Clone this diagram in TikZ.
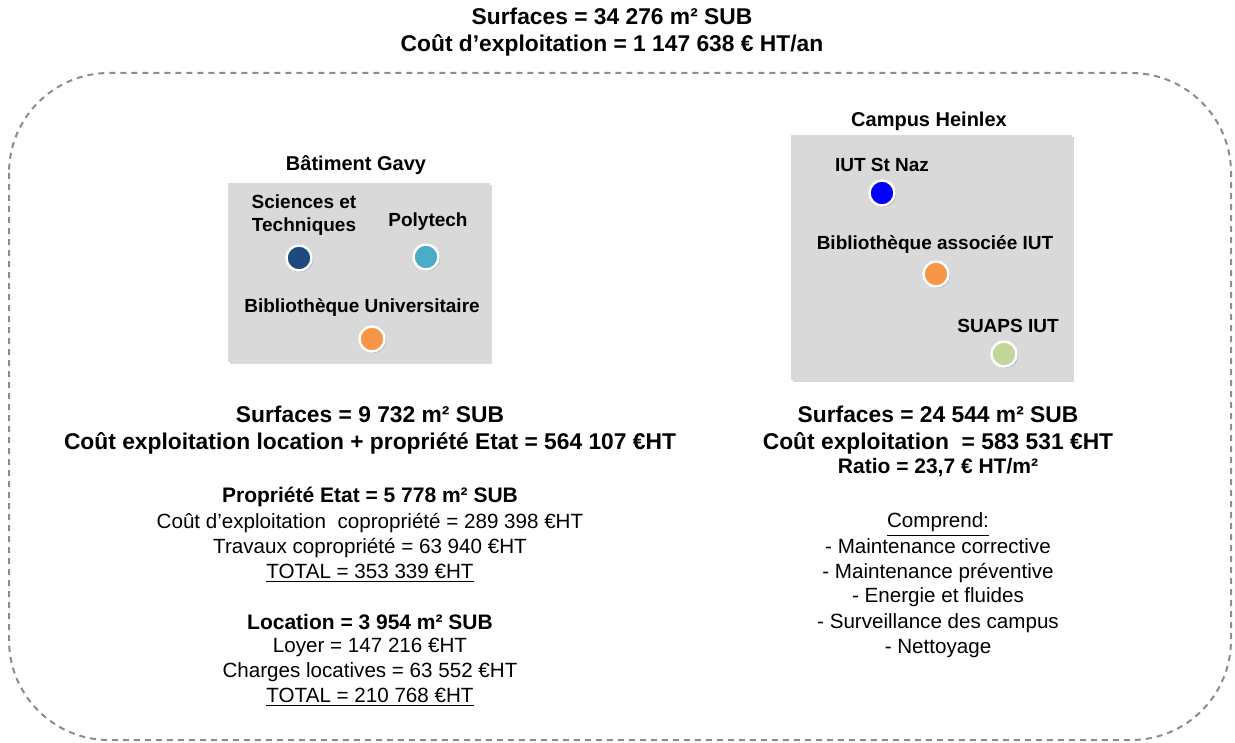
\documentclass[tikz,border=0pt]{standalone}
\usepackage{fontspec}
\setmainfont{Liberation Sans}
\usetikzlibrary{shadows}
\definecolor{boxgray}{HTML}{D9D9D9}
\definecolor{dashgray}{HTML}{8C8C8C}
\definecolor{navy}{HTML}{1F497D}
\definecolor{teal}{HTML}{4BACC6}
\definecolor{peach}{HTML}{F79646}
\definecolor{pureblue}{HTML}{0000FF}
\definecolor{sage}{HTML}{C3D69B}
\begin{document}
\begin{tikzpicture}[
				x=0.5pt, y=-0.5pt,
				dot/.style={
						circle,
						fill=#1,
						draw=white,
						line width=1.2pt,
						minimum size=12.5pt,
						inner sep=0pt,
						drop shadow={shadow xshift=0.8pt, shadow yshift=-0.8pt, opacity=.35},
					},
				site/.style={
						fill=boxgray,
						draw=none,
						drop shadow={shadow xshift=1.2pt, shadow yshift=-1.2pt, opacity=.3},
					},
				big/.style={font=\bfseries\fontsize{11.4}{13.6}\selectfont, align=center},
				mid/.style={font=\bfseries\fontsize{10.5}{12.5}\selectfont, align=center},
				txt/.style={font=\fontsize{10.3}{12.5}\selectfont, align=center},
				lbl/.style={font=\bfseries\fontsize{9.5}{11.5}\selectfont, align=center},
				ttl/.style={font=\bfseries\fontsize{10}{12}\selectfont},
			]
			\useasboundingbox (0,0) rectangle (1235,743);

			% overall frame
			\node[big] (tot) at (612,32) {Surfaces = 34 276 m² SUB\\Coût d’exploitation = 1 147 638 € HT/an};
			\draw[dashgray, line width=1pt, dash pattern=on 3pt off 2.5pt, rounded corners=50pt]
				(9,73) rectangle (1231,740);

			% Batiment Gavy
			\node[ttl] (gavyT) at (356,165) {Bâtiment Gavy};
			\fill[site] (228,183) rectangle (490,362);
			\node[lbl] (stL) at (304,215) {Sciences et\\Techniques};
			\node[lbl] (polyL) at (428,222) {Polytech};
			\node[lbl] (buL) at (362,308) {Bibliothèque Universitaire};
			\node[dot=navy] (st) at (299,258) {};
			\node[dot=teal] (poly) at (426,257) {};
			\node[dot=peach] (bu) at (372,339) {};

			% Campus Heinlex
			\node[ttl] (heinT) at (929,121) {Campus Heinlex};
			\fill[site] (791,135) rectangle (1072,380);
			\node[lbl] (iutL) at (882,165) {IUT St Naz};
			\node[lbl] (biaL) at (935,245) {Bibliothèque associée IUT};
			\node[lbl] (suL) at (1008,326) {SUAPS IUT};
			\node[dot=pureblue] (iut) at (882,193) {};
			\node[dot=peach] (bia) at (936,274) {};
			\node[dot=sage] (su) at (1004,354) {};

			% left figures
			\node[big] (gavyS) at (370,430) {Surfaces = 9 732 m² SUB\\Coût exploitation location + propriété Etat = 564 107 €HT};
			\node[mid] (propH) at (370,497) {Propriété Etat = 5 778 m² SUB};
			\node[txt, anchor=north] (propT) at (370,506) {Coût d’exploitation\ \ copropriété = 289 398 €HT\\
				Travaux copropriété = 63 940 €HT\\\underline{TOTAL = 353 339 €HT}};
			\node[mid] (locH) at (370,622) {Location = 3 954 m² SUB};
			\node[txt, anchor=north] (locT) at (370,631) {Loyer = 147 216 €HT\\
				Charges locatives = 63 552 €HT\\\underline{TOTAL = 210 768 €HT}};

			% right figures
			\node[big] (heinS) at (938,430) {Surfaces = 24 544 m² SUB\\Coût exploitation\ \ = 583 531 €HT};
			\node[mid] (ratio) at (938,468) {Ratio = 23,7 € HT/m²};
			\node[txt, anchor=north] (comp) at (938,506) {\underline{Comprend:}\\- Maintenance corrective\\
				- Maintenance préventive\\- Energie et fluides\\- Surveillance des campus\\- Nettoyage};
		\end{tikzpicture}
\end{document}
